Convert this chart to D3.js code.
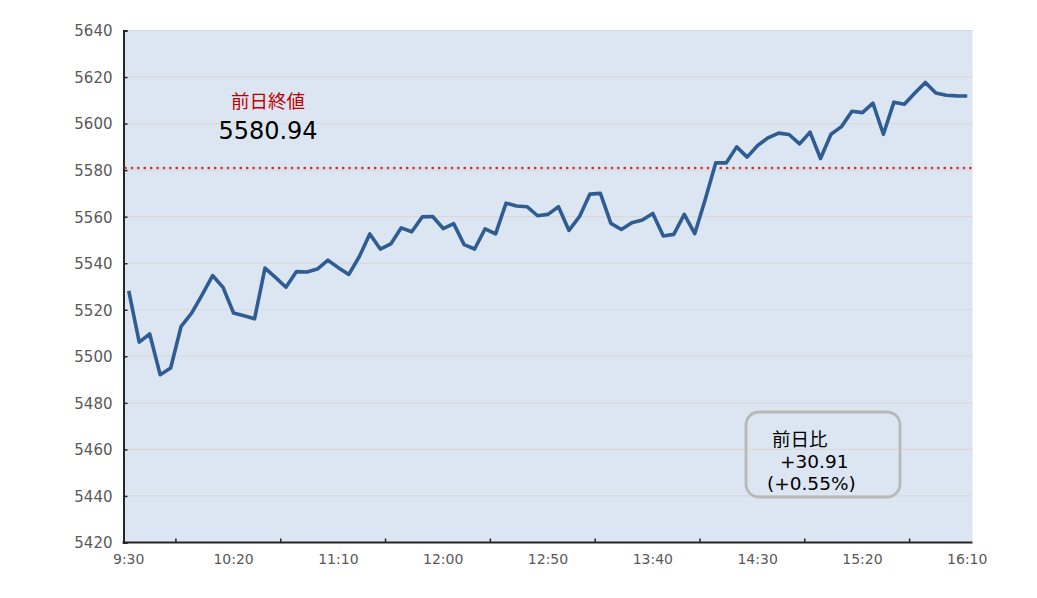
<!DOCTYPE html>
<html>
<head>
<meta charset="utf-8">
<script src="https://cdnjs.cloudflare.com/ajax/libs/d3/7.8.5/d3.min.js"></script>
<style>
  body { margin: 0; background: #fff; }
  text { font-family: "DejaVu Sans", "Noto Sans CJK JP", sans-serif; }
</style>
</head>
<body>
<div id="chart"></div>
<script>
// 5-minute categories, 9:30 - 16:10
var times = ['9:30','9:35','9:40','9:45','9:50','9:55','10:00','10:05','10:10','10:15',
  '10:20','10:25','10:30','10:35','10:40','10:45','10:50','10:55','11:00','11:05',
  '11:10','11:15','11:20','11:25','11:30','11:35','11:40','11:45','11:50','11:55',
  '12:00','12:05','12:10','12:15','12:20','12:25','12:30','12:35','12:40','12:45',
  '12:50','12:55','13:00','13:05','13:10','13:15','13:20','13:25','13:30','13:35',
  '13:40','13:45','13:50','13:55','14:00','14:05','14:10','14:15','14:20','14:25',
  '14:30','14:35','14:40','14:45','14:50','14:55','15:00','15:05','15:10','15:15',
  '15:20','15:25','15:30','15:35','15:40','15:45','15:50','15:55','16:00','16:05','16:10'];

var prices = [5528.1,5506.1,5509.6,5492.1,5495.0,5512.9,5518.6,5526.4,5534.7,5529.6,
  5518.6,5517.4,5516.1,5537.9,5533.9,5529.7,5536.4,5536.2,5537.5,5541.3,
  5538.1,5535.2,5542.9,5552.6,5546.1,5548.3,5555.2,5553.5,5559.9,5560.1,
  5554.9,5557.0,5548.0,5546.1,5554.8,5552.6,5565.8,5564.6,5564.3,5560.4,
  5561.0,5564.3,5554.1,5560.0,5569.7,5570.0,5557.1,5554.5,5557.4,5558.6,
  5561.4,5551.7,5552.4,5561.0,5552.7,5567.4,5583.1,5583.1,5590.0,5585.6,
  5590.6,5593.9,5595.9,5595.3,5591.3,5596.3,5585.0,5595.4,5598.7,5605.3,
  5604.7,5608.8,5595.4,5609.2,5608.3,5613.1,5617.7,5613.1,5612.2,5611.9,5611.85];

var yTicks = [5420,5440,5460,5480,5500,5520,5540,5560,5580,5600,5620,5640];
var xLabels = ['9:30','10:20','11:10','12:00','12:50','13:40','14:30','15:20','16:10'];
var xTickAfter = ['9:50','10:40','11:30','12:20','13:10','14:00','14:50','15:40'];

var prevClose = 5580.94;
var prevCloseLabel = ['前日終値', '5580.94'];
var changeLabel = ['前日比', '+30.91', '(+0.55%)'];

var W = 1037, H = 598;
var plot = {left: 123.5, right: 972.5, top: 30.5, bottom: 542.5};

var svg = d3.select('#chart').append('svg')
    .attr('width', W).attr('height', H);

var x = d3.scaleBand().domain(times).range([plot.left, plot.right]);
var y = d3.scaleLinear().domain([5420, 5640]).range([plot.bottom, plot.top]);
var cx = function(t){ return x(t) + x.bandwidth() / 2; };

// plot background
svg.append('rect')
    .attr('x', plot.left).attr('y', plot.top)
    .attr('width', plot.right - plot.left).attr('height', plot.bottom - plot.top)
    .attr('fill', '#dce6f2');

// gridlines
svg.append('g').selectAll('line')
    .data(yTicks.slice(1))
    .enter().append('line')
    .attr('x1', plot.left).attr('x2', plot.right)
    .attr('y1', function(d){ return y(d); }).attr('y2', function(d){ return y(d); })
    .attr('stroke', '#d9d9d9').attr('stroke-width', 1.2);

// y axis
var yAxis = svg.append('g')
    .attr('transform', 'translate(' + plot.left + ',0)')
    .call(d3.axisLeft(y).tickValues(yTicks).tickFormat(d3.format('d'))
          .tickSize(-4).tickPadding(11));
yAxis.select('.domain').attr('stroke', '#262626').attr('stroke-width', 2);
yAxis.selectAll('.tick line').attr('stroke', '#262626').attr('stroke-width', 1.5);
yAxis.selectAll('.tick text')
    .attr('fill', '#595959').style('font-size', '15px')
    .attr('dy', '0.36em');

// x axis
var xg = svg.append('g').attr('transform', 'translate(0,' + plot.bottom + ')');
xg.append('line')
    .attr('x1', plot.left - 1).attr('x2', plot.right)
    .attr('stroke', '#262626').attr('stroke-width', 2);
xg.selectAll('line.tk')
    .data(xTickAfter)
    .enter().append('line').classed('tk', true)
    .attr('x1', function(d){ return x(d) + x.bandwidth(); })
    .attr('x2', function(d){ return x(d) + x.bandwidth(); })
    .attr('y1', 0).attr('y2', -4)
    .attr('stroke', '#262626').attr('stroke-width', 1.5);
xg.selectAll('text')
    .data(xLabels)
    .enter().append('text')
    .attr('x', cx).attr('y', 21)
    .attr('text-anchor', 'middle')
    .attr('fill', '#595959').style('font-size', '14px')
    .text(function(d){ return d; });

// previous close reference
svg.append('line')
    .attr('x1', plot.left + 2).attr('x2', plot.right - 2)
    .attr('y1', y(prevClose)).attr('y2', y(prevClose))
    .attr('stroke', '#d0312d').attr('stroke-width', 2.6)
    .attr('stroke-linecap', 'round')
    .attr('stroke-dasharray', '0.1 6.3');

// price line
var line = d3.line()
    .x(function(d, i){ return cx(times[i]); })
    .y(function(d){ return y(d); });

svg.append('path')
    .datum(prices)
    .attr('d', line)
    .attr('fill', 'none')
    .attr('stroke', '#2f5d93')
    .attr('stroke-width', 3.6)
    .attr('stroke-linejoin', 'round');

// annotations
svg.append('text')
    .attr('x', 268).attr('y', 108)
    .attr('text-anchor', 'middle')
    .attr('fill', '#c00000').style('font-size', '18.5px')
    .text(prevCloseLabel[0]);
svg.append('text')
    .attr('x', 268).attr('y', 139)
    .attr('text-anchor', 'middle')
    .attr('fill', '#000').style('font-size', '24px')
    .text(prevCloseLabel[1]);

svg.append('rect')
    .attr('x', 746).attr('y', 412)
    .attr('width', 154).attr('height', 85)
    .attr('rx', 13).attr('ry', 13)
    .attr('fill', 'none')
    .attr('stroke', '#b8b8b8').attr('stroke-width', 2.8);

var box = svg.append('g').style('font-size', '18.5px').attr('fill', '#000');
box.append('text').attr('x', 772).attr('y', 446).text(changeLabel[0]);
box.append('text').attr('x', 780).attr('y', 468).text(changeLabel[1]);
box.append('text').attr('x', 767).attr('y', 490).text(changeLabel[2]);
</script>
</body>
</html>
